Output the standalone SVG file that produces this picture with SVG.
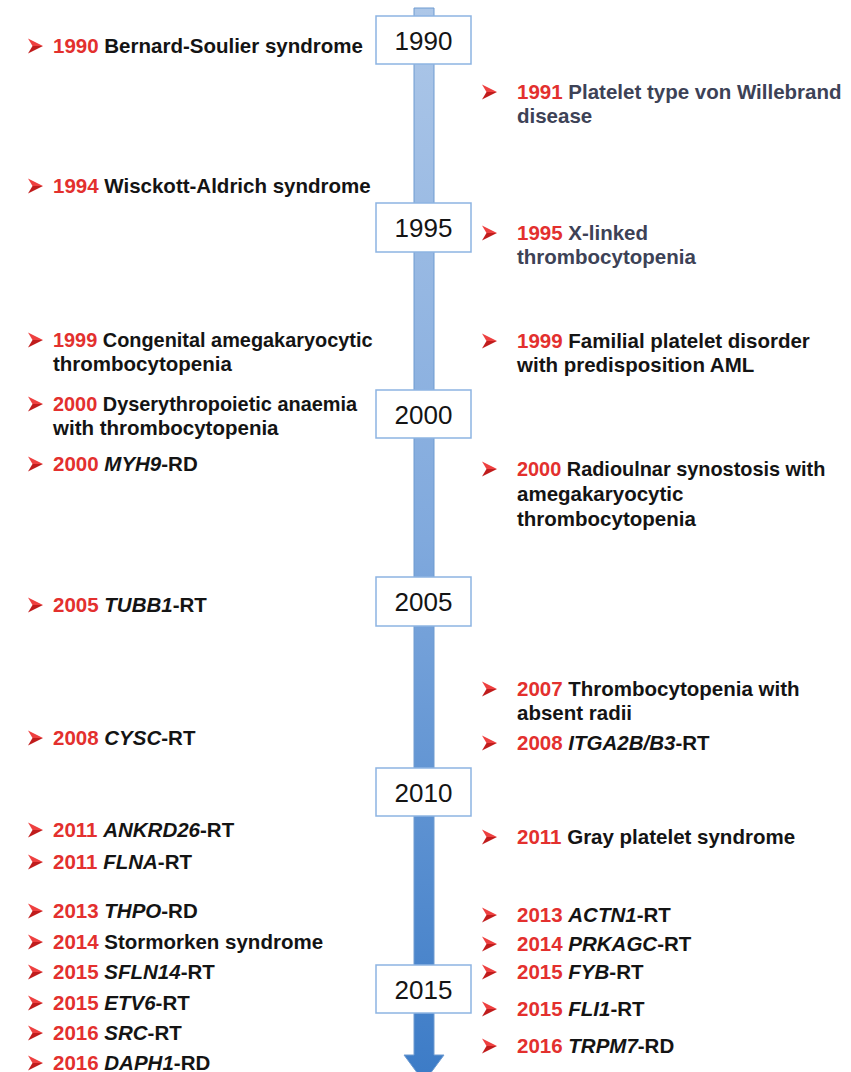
<svg xmlns="http://www.w3.org/2000/svg" xmlns:xlink="http://www.w3.org/1999/xlink" width="851" height="1072" viewBox="0 0 851 1072">
<style>
  .t { font-family: "Liberation Sans", Arial, sans-serif; font-size: 20.5px; font-weight: bold; fill: #141414; }
  .n { font-size: 19.9px; }
  .s { fill: #3d4256; }
  .y { fill: #e3302e; }
  .i { font-style: italic; }
  .box { fill: #ffffff; stroke: #8db4e2; stroke-width: 1.5; }
  .yr { font-family: "Liberation Sans", Arial, sans-serif; font-size: 26px; fill: #141414; text-anchor: middle; }
</style>
<defs>
  <linearGradient id="shaft" gradientUnits="userSpaceOnUse" x1="0" y1="8" x2="0" y2="1072">
    <stop offset="0" stop-color="#adc7e8"/>
    <stop offset="0.5" stop-color="#80a9dd"/>
    <stop offset="1" stop-color="#3d7cc7"/>
  </linearGradient>
  <g id="bul">
    <polygon points="0,-7.5 15,0 4.5,0" fill="#ee4040"/>
    <polygon points="0,7.5 15,0 4.5,0" fill="#c01c1c"/>
  </g>
</defs>
<rect width="851" height="1072" fill="#ffffff"/>

<g id="connectors">
  <path d="M414,8 H434 V1055 H444 L424,1082 L404,1055 H414 Z" fill="url(#shaft)" stroke="#6f9bd0" stroke-width="1"/>
</g>

<g id="years">
  <g id="y1990"><rect class="box" x="376" y="16" width="95" height="48"/><text class="yr" x="423.5" y="50">1990</text></g>
  <g id="y1995"><rect class="box" x="376" y="203" width="95" height="49"/><text class="yr" x="423.5" y="237">1995</text></g>
  <g id="y2000"><rect class="box" x="376" y="390" width="95" height="48"/><text class="yr" x="423.5" y="424">2000</text></g>
  <g id="y2005"><rect class="box" x="376" y="577" width="95" height="49"/><text class="yr" x="423.5" y="611">2005</text></g>
  <g id="y2010"><rect class="box" x="376" y="768" width="95" height="48"/><text class="yr" x="423.5" y="802">2010</text></g>
  <g id="y2015"><rect class="box" x="376" y="965" width="95" height="48"/><text class="yr" x="423.5" y="999">2015</text></g>
</g>

<g id="left">
  <g id="l1990"><use xlink:href="#bul" x="28" y="46"/><text class="t" x="53" y="53"><tspan class="y">1990</tspan> Bernard-Soulier syndrome</text></g>
  <g id="l1994"><use xlink:href="#bul" x="28" y="186"/><text class="t" x="53" y="193"><tspan class="y">1994</tspan> Wisckott-Aldrich syndrome</text></g>
  <g id="l1999"><use xlink:href="#bul" x="28" y="340"/><text class="t n" x="53" y="347"><tspan class="y">1999</tspan> Congenital amegakaryocytic</text><text class="t" x="53" y="371">thrombocytopenia</text></g>
  <g id="l2000a"><use xlink:href="#bul" x="28" y="404"/><text class="t n" x="53" y="411"><tspan class="y">2000</tspan> Dyserythropoietic anaemia</text><text class="t" x="53" y="435">with thrombocytopenia</text></g>
  <g id="l2000b"><use xlink:href="#bul" x="28" y="464"/><text class="t" x="53" y="471"><tspan class="y">2000</tspan> <tspan class="i">MYH9</tspan>-RD</text></g>
  <g id="l2005"><use xlink:href="#bul" x="28" y="605"/><text class="t" x="53" y="612"><tspan class="y">2005</tspan> <tspan class="i">TUBB1</tspan>-RT</text></g>
  <g id="l2008"><use xlink:href="#bul" x="28" y="738"/><text class="t" x="53" y="745"><tspan class="y">2008</tspan> <tspan class="i">CYSC</tspan>-RT</text></g>
  <g id="l2011a"><use xlink:href="#bul" x="28" y="830"/><text class="t" x="53" y="837"><tspan class="y">2011</tspan> <tspan class="i">ANKRD26</tspan>-RT</text></g>
  <g id="l2011b"><use xlink:href="#bul" x="28" y="862"/><text class="t" x="53" y="869"><tspan class="y">2011</tspan> <tspan class="i">FLNA</tspan>-RT</text></g>
  <g id="l2013"><use xlink:href="#bul" x="28" y="911"/><text class="t" x="53" y="918"><tspan class="y">2013</tspan> <tspan class="i">THPO</tspan>-RD</text></g>
  <g id="l2014"><use xlink:href="#bul" x="28" y="942"/><text class="t" x="53" y="949"><tspan class="y">2014</tspan> Stormorken syndrome</text></g>
  <g id="l2015a"><use xlink:href="#bul" x="28" y="972"/><text class="t" x="53" y="979"><tspan class="y">2015</tspan> <tspan class="i">SFLN14</tspan>-RT</text></g>
  <g id="l2015b"><use xlink:href="#bul" x="28" y="1003"/><text class="t" x="53" y="1010"><tspan class="y">2015</tspan> <tspan class="i">ETV6</tspan>-RT</text></g>
  <g id="l2016a"><use xlink:href="#bul" x="28" y="1033"/><text class="t" x="53" y="1040"><tspan class="y">2016</tspan> <tspan class="i">SRC</tspan>-RT</text></g>
  <g id="l2016b"><use xlink:href="#bul" x="28" y="1063"/><text class="t" x="53" y="1070"><tspan class="y">2016</tspan> <tspan class="i">DAPH1</tspan>-RD</text></g>
</g>

<g id="right">
  <g id="r1991"><use xlink:href="#bul" x="482" y="92"/><text class="t s" x="517" y="99"><tspan class="y">1991</tspan> Platelet type von Willebrand</text><text class="t s" x="517" y="123">disease</text></g>
  <g id="r1995"><use xlink:href="#bul" x="482" y="233"/><text class="t s" x="517" y="240"><tspan class="y">1995</tspan> X-linked</text><text class="t s" x="517" y="264">thrombocytopenia</text></g>
  <g id="r1999"><use xlink:href="#bul" x="482" y="341"/><text class="t" x="517" y="348"><tspan class="y">1999</tspan> Familial platelet disorder</text><text class="t" x="517" y="372">with predisposition AML</text></g>
  <g id="r2000"><use xlink:href="#bul" x="482" y="469"/><text class="t n" x="517" y="476"><tspan class="y">2000</tspan> Radioulnar synostosis with</text><text class="t" x="517" y="501">amegakaryocytic</text><text class="t" x="517" y="526">thrombocytopenia</text></g>
  <g id="r2007"><use xlink:href="#bul" x="482" y="689"/><text class="t" x="517" y="696"><tspan class="y">2007</tspan> Thrombocytopenia with</text><text class="t" x="517" y="720">absent radii</text></g>
  <g id="r2008"><use xlink:href="#bul" x="482" y="743"/><text class="t" x="517" y="750"><tspan class="y">2008</tspan> <tspan class="i">ITGA2B/B3</tspan>-RT</text></g>
  <g id="r2011"><use xlink:href="#bul" x="482" y="837"/><text class="t" x="517" y="844"><tspan class="y">2011</tspan> Gray platelet syndrome</text></g>
  <g id="r2013"><use xlink:href="#bul" x="482" y="915"/><text class="t" x="517" y="922"><tspan class="y">2013</tspan> <tspan class="i">ACTN1</tspan>-RT</text></g>
  <g id="r2014"><use xlink:href="#bul" x="482" y="944"/><text class="t" x="517" y="951"><tspan class="y">2014</tspan> <tspan class="i">PRKAGC</tspan>-RT</text></g>
  <g id="r2015a"><use xlink:href="#bul" x="482" y="972"/><text class="t" x="517" y="979"><tspan class="y">2015</tspan> <tspan class="i">FYB</tspan>-RT</text></g>
  <g id="r2015b"><use xlink:href="#bul" x="482" y="1009"/><text class="t" x="517" y="1016"><tspan class="y">2015</tspan> <tspan class="i">FLI1</tspan>-RT</text></g>
  <g id="r2016"><use xlink:href="#bul" x="482" y="1046"/><text class="t" x="517" y="1053"><tspan class="y">2016</tspan> <tspan class="i">TRPM7</tspan>-RD</text></g>
</g>
</svg>
